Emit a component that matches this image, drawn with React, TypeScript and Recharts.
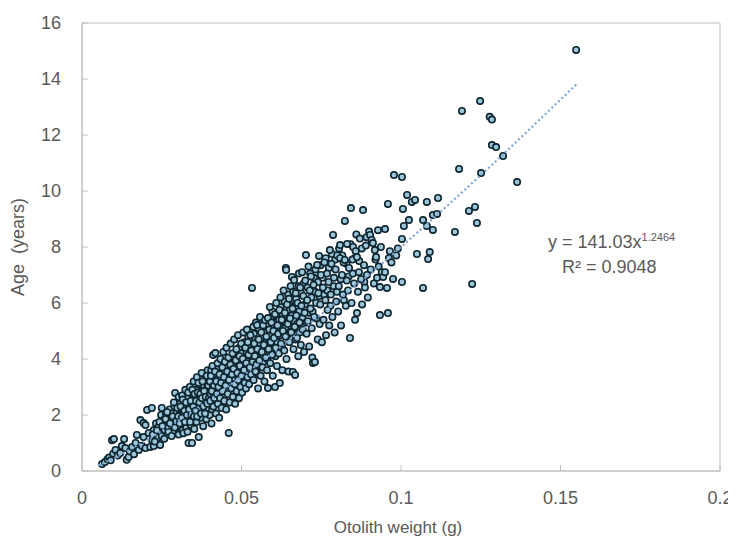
import React from 'react';
import { ScatterChart, Scatter, XAxis, YAxis, ReferenceArea } from 'recharts';

// [otolith weight (g), age (years)]
const fishSmall: [number, number][] = [
  [0.0063,0.25],[0.0072,0.32],[0.0080,0.42],[0.0085,0.48],[0.0090,0.38],[0.0094,1.10],[0.0100,1.14],[0.0098,0.62],
  [0.0105,0.75],[0.0112,0.55],[0.0120,0.64],[0.0125,0.89],[0.0132,1.14],[0.0136,0.82],[0.0140,0.40],[0.0146,0.50],
  [0.0150,0.70],[0.0157,0.86],[0.0163,0.60],[0.0168,1.00],[0.0172,1.29],[0.0178,0.75],[0.0183,1.82],[0.0188,0.90],
  [0.0193,1.71],[0.0193,1.21],[0.0199,1.64],[0.0199,0.82],[0.0204,2.18],[0.0209,1.36],[0.0214,0.86],[0.0219,2.25],
  [0.0220,1.10],[0.0225,1.46],[0.0225,0.89],[0.0232,1.70],[0.0238,1.20],[0.0240,1.57],[0.0245,0.93],[0.0248,2.00],
  [0.0250,1.25],[0.0250,2.25],
];

const fishYoung: [number, number][] = [
  [0.0256,1.82],[0.0260,1.45],[0.0263,2.05],[0.0265,1.60],[0.0268,1.30],[0.0270,1.95],[0.0272,1.75],[0.0275,2.20],
  [0.0278,1.50],[0.0280,1.85],[0.0283,2.05],[0.0285,1.40],[0.0287,1.65],[0.0290,2.30],[0.0292,2.79],[0.0293,1.90],
  [0.0295,1.55],[0.0297,2.10],[0.0300,1.75],[0.0303,2.64],[0.0303,1.30],
  [0.0305,2.00],[0.0307,2.40],[0.0308,1.60],[0.0310,1.85],[0.0312,2.20],[0.0314,2.70],[0.0315,1.45],[0.0317,2.05],
  [0.0319,1.70],[0.0320,2.50],[0.0322,1.95],[0.0324,2.90],[0.0325,2.25],[0.0327,1.55],[0.0328,1.80],[0.0330,2.10],
  [0.0332,2.60],[0.0334,1.00],[0.0335,2.35],[0.0337,1.90],[0.0338,3.00],[0.0340,1.65],[0.0342,2.15],[0.0344,2.75],
  [0.0345,1.00],[0.0347,2.45],[0.0348,1.85],[0.0350,3.20],[0.0350,2.05],
  [0.0352,1.50],[0.0354,2.60],[0.0355,2.25],[0.0357,2.90],[0.0359,1.75],[0.0360,3.35],[0.0362,2.40],[0.0364,2.00],
  [0.0366,1.21],[0.0367,2.70],[0.0369,3.10],[0.0370,2.20],[0.0372,1.90],[0.0374,2.55],[0.0375,3.50],[0.0377,2.85],
  [0.0379,2.35],[0.0380,1.60],[0.0382,3.05],[0.0384,2.10],[0.0385,2.65],[0.0387,3.30],[0.0389,2.45],[0.0390,1.85],
  [0.0392,2.95],[0.0394,3.60],[0.0395,2.25],[0.0397,2.75],[0.0399,3.15],[0.0400,2.00],
];

const fishMiddle: [number, number][] = [
  [0.0402,2.50],[0.0404,3.40],[0.0406,1.70],[0.0407,2.85],[0.0409,3.75],[0.0411,4.14],[0.0412,2.30],[0.0414,3.05],
  [0.0415,2.60],[0.0417,3.55],[0.0418,4.21],[0.0420,2.05],[0.0421,3.20],[0.0423,2.75],[0.0425,3.85],[0.0426,2.40],
  [0.0428,3.00],[0.0430,1.90],[0.0431,3.45],[0.0433,2.60],[0.0434,4.00],[0.0436,3.15],[0.0438,2.25],[0.0440,3.70],
  [0.0441,2.85],[0.0443,4.25],[0.0445,3.35],[0.0446,2.50],[0.0448,3.90],[0.0450,3.05],[0.0452,2.20],[0.0453,4.40],
  [0.0455,3.55],[0.0457,2.75],[0.0459,4.05],[0.0460,1.36],[0.0461,3.25],[0.0463,2.45],[0.0465,3.80],[0.0466,4.55],
  [0.0468,2.95],[0.0470,3.45],[0.0472,4.20],[0.0473,2.65],[0.0475,3.65],[0.0477,4.70],[0.0479,3.10],[0.0480,2.40],
  [0.0482,3.95],[0.0484,4.35],[0.0485,2.85],[0.0487,3.50],[0.0489,4.85],[0.0490,3.25],[0.0492,2.60],[0.0494,4.10],
  [0.0495,3.75],[0.0497,3.00],[0.0499,4.55],[0.0500,3.40],
  [0.0502,2.80],[0.0504,4.00],[0.0506,4.95],[0.0508,3.60],[0.0510,3.15],[0.0512,4.40],[0.0514,2.95],[0.0515,3.85],
  [0.0517,5.05],[0.0519,3.35],[0.0520,4.60],[0.0522,4.15],[0.0524,3.10],[0.0526,3.70],[0.0528,4.85],[0.0530,3.45],
  [0.0531,4.30],[0.0533,6.54],[0.0535,3.90],[0.0537,5.15],[0.0538,3.25],[0.0540,4.55],[0.0542,4.10],[0.0544,3.55],
  [0.0545,5.30],[0.0547,3.80],[0.0549,5.21],[0.0550,4.35],
];

const fishAdult: [number, number][] = [
  [0.0552,2.95],[0.0554,4.70],[0.0556,3.95],[0.0558,5.50],[0.0560,3.40],[0.0562,4.95],[0.0564,4.25],[0.0566,3.70],
  [0.0568,5.20],[0.0570,4.50],[0.0572,3.20],[0.0574,5.39],[0.0576,4.05],[0.0578,4.80],[0.0580,3.60],[0.0583,5.46],
  [0.0583,2.96],[0.0585,4.35],[0.0587,5.05],[0.0589,5.86],[0.0590,3.85],[0.0592,4.60],[0.0594,5.30],[0.0596,4.15],
  [0.0598,3.40],[0.0600,5.00],[0.0602,4.75],[0.0605,3.00],[0.0605,5.60],[0.0607,4.40],[0.0609,6.00],[0.0611,3.75],
  [0.0613,5.20],[0.0615,4.90],[0.0617,4.20],[0.0619,5.75],[0.0620,3.14],[0.0622,6.20],[0.0624,4.55],[0.0626,5.40],
  [0.0628,3.60],[0.0630,5.00],[0.0632,6.45],[0.0634,4.30],[0.0636,5.65],[0.0638,4.80],[0.0639,7.25],[0.0640,7.18],
  [0.0641,4.00],[0.0643,5.95],[0.0645,5.25],[0.0647,3.55],[0.0649,6.15],[0.0650,4.60],[0.0652,5.45],[0.0654,6.60],
  [0.0656,4.95],[0.0658,6.93],[0.0660,5.80],[0.0661,3.54],[0.0663,4.35],[0.0665,6.82],[0.0667,5.15],[0.0668,3.43],
  [0.0670,6.35],[0.0672,5.55],[0.0674,4.75],[0.0676,6.00],[0.0678,4.10],[0.0680,7.05],[0.0682,5.30],[0.0684,6.55],
  [0.0686,4.50],[0.0688,5.90],[0.0690,7.10],[0.0692,5.05],[0.0694,6.25],[0.0696,4.25],[0.0698,5.65],[0.0700,6.80],
  [0.0702,7.71],[0.0704,4.90],[0.0706,6.10],[0.0708,5.35],[0.0710,7.30],[0.0712,4.45],[0.0714,6.45],[0.0716,5.80],
  [0.0718,6.95],[0.0720,5.10],[0.0722,4.05],[0.0724,3.86],[0.0726,6.65],[0.0728,5.50],[0.0730,3.89],[0.0732,7.20],
  [0.0734,6.00],[0.0737,7.36],[0.0739,4.70],[0.0741,6.35],[0.0743,7.68],[0.0745,5.25],[0.0747,5.95],[0.0749,7.00],
];

const fishCore: [number, number][] = [
  [0.0222,1.30],[0.0228,1.05],[0.0235,1.45],[0.0243,1.75],[0.0252,1.60],[0.0258,1.15],[0.0262,1.85],[0.0267,2.10],
  [0.0271,1.40],[0.0276,1.70],[0.0281,1.25],[0.0284,1.95],[0.0288,2.45],[0.0291,1.55],[0.0296,1.80],[0.0299,2.25],
  [0.0302,1.95],[0.0306,1.70],[0.0309,2.30],[0.0313,1.90],[0.0316,2.55],[0.0318,1.35],[0.0321,2.15],[0.0323,1.75],
  [0.0326,2.45],[0.0329,2.00],[0.0331,1.40],[0.0333,2.80],[0.0336,2.20],[0.0339,1.75],[0.0341,2.50],[0.0343,2.00],
  [0.0346,2.90],[0.0349,2.30],[0.0351,1.95],[0.0353,2.75],[0.0356,2.15],[0.0358,2.50],[0.0361,1.95],[0.0363,2.80],
  [0.0365,3.15],[0.0368,2.45],[0.0371,2.75],[0.0373,2.05],[0.0376,2.60],[0.0378,3.20],[0.0381,2.30],[0.0383,2.85],
  [0.0386,2.05],[0.0388,2.65],[0.0391,3.40],[0.0393,2.40],[0.0396,3.05],[0.0398,2.60],
  [0.0401,3.20],[0.0403,2.75],[0.0405,3.60],[0.0408,2.20],[0.0410,3.00],[0.0413,2.75],[0.0416,3.35],[0.0419,2.50],
  [0.0422,3.65],[0.0424,2.95],[0.0427,3.30],[0.0429,2.55],[0.0432,3.85],[0.0435,2.80],[0.0437,3.50],[0.0439,3.05],
  [0.0442,2.40],[0.0444,3.60],[0.0447,3.20],[0.0449,2.70],[0.0451,3.75],[0.0454,3.30],[0.0456,2.90],[0.0458,3.95],
  [0.0462,3.60],[0.0464,3.10],[0.0467,3.40],[0.0469,4.00],[0.0471,2.85],[0.0474,3.85],[0.0476,3.30],[0.0478,4.10],
  [0.0481,3.55],[0.0483,3.00],[0.0486,4.00],[0.0488,3.70],[0.0491,3.35],[0.0493,4.40],[0.0496,3.85],[0.0498,3.20],
  [0.0501,4.20],[0.0503,3.70],[0.0507,3.30],[0.0509,4.60],[0.0511,3.95],[0.0513,3.45],[0.0516,4.25],[0.0518,3.75],
  [0.0521,4.80],[0.0523,3.95],[0.0525,4.45],[0.0527,3.60],[0.0529,4.10],[0.0532,4.65],[0.0534,3.70],[0.0536,4.35],
  [0.0539,4.90],[0.0541,3.95],[0.0543,4.70],[0.0546,4.20],[0.0548,3.50],[0.0551,4.65],[0.0553,5.10],[0.0555,4.30],
  [0.0557,3.75],[0.0559,4.55],[0.0561,5.25],[0.0563,4.00],[0.0565,4.75],[0.0567,4.40],[0.0569,3.90],[0.0571,5.00],
  [0.0573,4.55],[0.0575,4.20],[0.0577,5.15],[0.0579,4.70],[0.0581,4.00],[0.0584,5.25],[0.0586,4.60],[0.0588,4.15],
  [0.0591,5.45],[0.0593,4.90],[0.0595,4.35],[0.0597,5.70],[0.0599,4.60],
  [0.0603,5.30],[0.0606,4.10],[0.0608,5.05],[0.0610,5.55],[0.0612,4.60],[0.0614,4.35],[0.0618,5.40],[0.0621,4.85],
  [0.0623,5.85],[0.0625,5.10],[0.0627,4.45],[0.0629,5.60],[0.0631,4.95],[0.0633,5.35],[0.0635,6.05],[0.0637,5.10],
  [0.0642,5.55],[0.0644,4.85],[0.0646,6.30],[0.0648,5.40],[0.0651,5.75],[0.0653,4.95],[0.0655,6.10],[0.0657,5.55],
  [0.0659,5.00],[0.0662,6.40],[0.0664,5.85],[0.0666,5.35],[0.0669,4.70],[0.0671,6.15],[0.0673,5.80],[0.0675,5.25],
  [0.0679,6.60],[0.0681,5.70],[0.0683,4.95],[0.0687,6.35],[0.0691,5.45],[0.0695,6.70],[0.0699,5.95],[0.0703,5.30],
  [0.0707,6.55],[0.0711,5.65],[0.0715,7.05],[0.0719,6.20],[0.0723,5.70],[0.0727,6.90],[0.0731,6.40],[0.0735,5.45],
  [0.0740,6.75],[0.0744,6.25],[0.0748,7.35],
  [0.0754,6.90],[0.0759,6.30],[0.0764,7.60],[0.0769,6.45],[0.0774,7.25],[0.0779,5.90],[0.0784,7.75],[0.0789,6.60],
  [0.0794,7.55],[0.0799,6.40],[0.0806,7.95],[0.0811,6.85],[0.0816,7.70],[0.0821,6.10],[0.0829,7.40],[0.0836,6.95],
  [0.0842,8.10],[0.0849,7.05],[0.0855,7.60],[0.0860,8.45],[0.0869,7.50],[0.0877,7.95],[0.0885,6.75],[0.0892,8.35],
];

const fishOld: [number, number][] = [
  [0.0752,4.60],[0.0755,6.55],[0.0757,5.40],[0.0760,7.45],[0.0763,6.10],[0.0765,4.85],[0.0768,7.05],[0.0770,5.75],
  [0.0773,6.75],[0.0775,5.20],[0.0777,7.89],[0.0780,6.30],[0.0782,7.40],[0.0785,5.50],[0.0787,8.43],[0.0790,6.90],
  [0.0792,4.95],[0.0795,7.20],[0.0797,6.05],[0.0800,7.70],[0.0803,5.70],[0.0805,6.60],[0.0809,8.07],[0.0809,7.60],
  [0.0812,5.20],[0.0815,7.00],[0.0818,6.30],[0.0820,7.45],[0.0824,8.93],[0.0824,7.54],[0.0827,5.90],[0.0830,6.80],
  [0.0831,8.11],[0.0834,6.45],[0.0837,7.25],[0.0840,4.75],[0.0843,9.39],[0.0845,6.00],[0.0848,7.55],[0.0850,8.00],
  [0.0853,6.70],[0.0856,5.40],[0.0858,7.85],[0.0862,7.64],[0.0862,5.64],[0.0865,6.40],[0.0868,7.10],[0.0871,8.30],
  [0.0875,6.85],[0.0878,5.95],[0.0881,9.32],[0.0884,7.35],[0.0887,6.55],[0.0890,8.05],[0.0893,7.00],[0.0896,6.20],
  [0.0900,8.55],[0.0903,8.43],[0.0905,7.20],[0.0908,8.25],[0.0912,8.14],[0.0915,6.70],[0.0918,7.89],[0.0920,7.55],
  [0.0922,7.64],[0.0925,6.90],[0.0928,8.60],[0.0930,7.30],[0.0934,6.57],[0.0934,5.57],[0.0937,8.00],[0.0940,7.10],
  [0.0944,6.93],
];

const fishOutliers: [number, number][] = [
  [0.0950,7.10],[0.0950,8.64],[0.0956,6.54],[0.0959,9.54],[0.0959,5.64],[0.0962,7.60],[0.0965,7.85],[0.0970,7.45],
  [0.0975,6.86],[0.0978,10.57],[0.0985,7.70],[0.0990,7.95],[0.1003,10.50],[0.1003,8.29],[0.1003,6.75],[0.1006,9.36],
  [0.1009,8.75],[0.1019,9.86],[0.1025,8.96],[0.1034,9.61],[0.1044,9.68],[0.1050,7.75],[0.1069,8.96],[0.1069,6.54],
  [0.1081,9.61],[0.1081,8.75],[0.1085,7.57],[0.1090,7.82],[0.1100,9.14],[0.1100,8.61],[0.1113,9.18],[0.1116,9.75],
  [0.1169,8.54],[0.1182,10.79],[0.1191,12.86],[0.1213,9.29],[0.1223,6.68],[0.1232,9.43],[0.1238,8.86],[0.1248,13.21],
  [0.1251,10.64],[0.1278,12.65],[0.1285,12.55],[0.1285,11.64],[0.1298,11.57],[0.1320,11.25],[0.1364,10.32],[0.1549,15.04],
];

// power trendline y = 141.03 x^1.2464
const trendWeights = [0.005, 0.01, 0.02, 0.03, 0.04, 0.05, 0.06, 0.07, 0.08, 0.09, 0.10, 0.11, 0.12, 0.13, 0.14, 0.155];
const trendAges = [0.19, 0.45, 1.08, 1.78, 2.55, 3.37, 4.23, 5.13, 6.06, 7.01, 8.00, 9.01, 10.04, 11.09, 12.17, 13.81];

const xTicks = [0, 0.05, 0.1, 0.15, 0.2];
const xTickLabels = ['0', '0.05', '0.1', '0.15', '0.2'];
const yTicks = [0, 2, 4, 6, 8, 10, 12, 14, 16];

const xTitle = 'Otolith weight (g)';
const yTitle = 'Age\u00a0\u00a0(years)';
const equationMain = 'y = 141.03x';
const equationExp = '1.2464';
const rSquared = 'R\u00b2 = 0.9048';

const points = [...fishSmall, ...fishYoung, ...fishCore, ...fishMiddle, ...fishAdult, ...fishOld, ...fishOutliers].map(([w, a]) => ({ w, a }));
const trend = trendWeights.map((w, i) => ({ w, a: trendAges[i] }));

const AXIS = '#bfbfbf';
const TEXT = '#595959';
const FONT = '"Liberation Sans", Arial, sans-serif';

function XTick(props: any) {
  const { x, y, payload } = props;
  const idx = xTicks.indexOf(payload.value);
  return (
    <g>
      <line x1={x} y1={y} x2={x} y2={y - 6} stroke={AXIS} />
      <text x={x} y={y + 27} dy="0.35em" textAnchor="middle" fill={TEXT} fontSize={18} fontFamily={FONT}>
        {idx >= 0 ? xTickLabels[idx] : String(payload.value)}
      </text>
    </g>
  );
}

function YTick(props: any) {
  const { x, y, payload } = props;
  return (
    <g>
      <line x1={x} y1={y} x2={x + 6} y2={y} stroke={AXIS} />
      <text x={x - 21} y={y} dy="0.35em" textAnchor="end" fill={TEXT} fontSize={18} fontFamily={FONT}>
        {payload.value}
      </text>
    </g>
  );
}

function Dot(props: any) {
  const { cx, cy } = props;
  if (cx == null || cy == null) return <g />;
  return <circle cx={cx} cy={cy} r={3.2} fill="#9cc6d8" stroke="#0c2530" strokeWidth={1.6} />;
}

export default function App() {
  return (
    <div style={{ position: 'relative', width: 736, height: 528, fontFamily: FONT }}>
      <style>{`.recharts-surface{overflow:visible}`}</style>
      <ScatterChart width={736} height={528} margin={{ top: 15, right: 24, bottom: 25, left: 20 }}>
        <ReferenceArea x1={0} x2={0.2} y1={0} y2={16} fill="none" stroke={AXIS} strokeWidth={1} ifOverflow="visible" />
        <XAxis
          type="number"
          dataKey="w"
          domain={[0, 0.2]}
          ticks={xTicks}
          height={40}
          tickSize={0}
          tickMargin={0}
          tickLine={false}
          axisLine={{ stroke: AXIS }}
          tick={<XTick />}
          interval={0}
        />
        <YAxis
          type="number"
          dataKey="a"
          domain={[0, 16]}
          ticks={yTicks}
          width={54}
          tickSize={0}
          tickMargin={0}
          tickLine={false}
          axisLine={{ stroke: AXIS }}
          tick={<YTick />}
          interval={0}
        />
        <Scatter data={points} shape={<Dot />} isAnimationActive={false} />
        <Scatter
          data={trend}
          shape={() => <g />}
          line={{ stroke: '#7fa6d6', strokeWidth: 2.2, strokeDasharray: '2 2.6' }}
          isAnimationActive={false}
        />
      </ScatterChart>
      <div style={{ position: 'absolute', left: 390, top: 519, transform: 'translate(-50%, -50%)', whiteSpace: 'nowrap', fontSize: 17, lineHeight: 1, color: TEXT }}>
        {xTitle}
      </div>
      <div style={{ position: 'absolute', left: 10, top: 239, transform: 'translate(-50%, -50%) rotate(-90deg)', whiteSpace: 'nowrap', fontSize: 18, lineHeight: 1, color: TEXT }}>
        {yTitle}
      </div>
      <div style={{ position: 'absolute', left: 540, top: 234, transform: 'translateY(-50%)', whiteSpace: 'nowrap', fontSize: 18, lineHeight: 1, color: TEXT }}>
        {equationMain}
        <span style={{ position: 'relative', top: -7, fontSize: 11 }}>{equationExp}</span>
      </div>
      <div style={{ position: 'absolute', left: 554, top: 259, transform: 'translateY(-50%)', whiteSpace: 'nowrap', fontSize: 18, lineHeight: 1, color: TEXT }}>
        {rSquared}
      </div>
    </div>
  );
}
